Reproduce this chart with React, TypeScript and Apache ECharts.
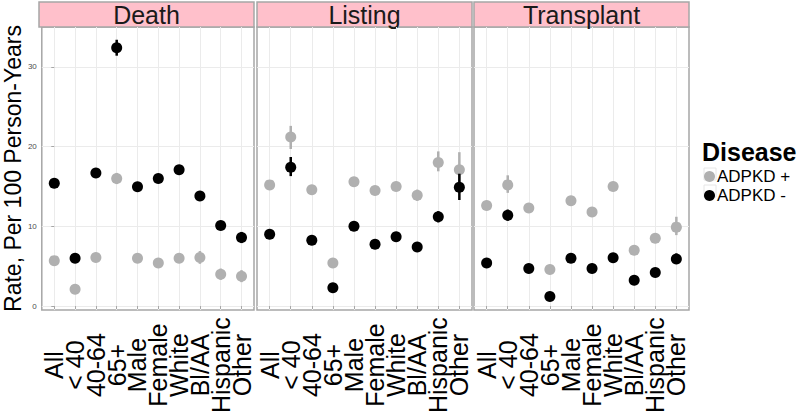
import React, { useEffect, useRef } from "react";
import * as echarts from "echarts";

const categories = ["All", "< 40", "40-64", "65+", "Male", "Female", "White", "Bl/AA", "Hispanic", "Other"];
const panels = ["Death", "Listing", "Transplant"];
const groups = ["ADPKD +", "ADPKD -"];
const yTicks = [0, 10, 20, 30];

// Death
const deathPos = [5.7, 2.1, 6.1, 16.0, 6.0, 5.4, 6.0, 6.1, 4.0, 3.75];
const deathPosLow = [5.3, 1.6, 5.6, 15.3, 5.5, 4.9, 5.5, 5.3, 3.3, 3.0];
const deathPosHigh = [6.1, 2.6, 6.6, 16.7, 6.5, 5.9, 6.5, 6.9, 4.7, 4.5];
const deathNeg = [15.4, 6.0, 16.7, 32.4, 14.96, 16.0, 17.1, 13.8, 10.1, 8.6];
const deathNegLow = [15.2, 5.7, 16.4, 31.4, 14.7, 15.7, 16.8, 13.3, 9.6, 7.9];
const deathNegHigh = [15.6, 6.3, 17.0, 33.4, 15.2, 16.3, 17.4, 14.3, 10.6, 9.3];

// Listing
const listingPos = [15.2, 21.2, 14.6, 5.4, 15.6, 14.5, 15.0, 13.9, 18.0, 17.1];
const listingPosLow = [14.8, 19.7, 14.1, 4.9, 15.2, 14.0, 14.5, 13.2, 16.9, 15.2];
const listingPosHigh = [15.6, 22.6, 15.1, 5.9, 16.0, 15.0, 15.5, 14.6, 19.4, 19.3];
const listingNeg = [9.0, 17.4, 8.25, 2.3, 10.0, 7.75, 8.7, 7.4, 11.2, 14.9];
const listingNegLow = [8.8, 16.3, 8.0, 2.1, 9.7, 7.5, 8.4, 7.0, 10.5, 13.3];
const listingNegHigh = [9.2, 18.7, 8.5, 2.5, 10.3, 8.0, 9.0, 7.8, 11.9, 16.6];

// Transplant
const transplantPos = [12.6, 15.2, 12.3, 4.6, 13.2, 11.8, 15.0, 7.0, 8.5, 9.9];
const transplantPosLow = [12.2, 14.2, 11.8, 4.1, 12.7, 11.3, 14.5, 6.4, 7.9, 8.9];
const transplantPosHigh = [13.0, 16.4, 12.8, 5.1, 13.7, 12.3, 15.5, 7.6, 9.1, 11.2];
const transplantNeg = [5.4, 11.4, 4.7, 1.2, 6.0, 4.7, 6.05, 3.25, 4.2, 5.9];
const transplantNegLow = [5.2, 10.7, 4.5, 1.0, 5.7, 4.5, 5.8, 3.0, 3.9, 5.3];
const transplantNegHigh = [5.6, 12.1, 4.9, 1.4, 6.3, 4.9, 6.3, 3.5, 4.5, 6.6];

const panelData = [
  { pos: deathPos, posLow: deathPosLow, posHigh: deathPosHigh, neg: deathNeg, negLow: deathNegLow, negHigh: deathNegHigh },
  { pos: listingPos, posLow: listingPosLow, posHigh: listingPosHigh, neg: listingNeg, negLow: listingNegLow, negHigh: listingNegHigh },
  { pos: transplantPos, posLow: transplantPosLow, posHigh: transplantPosHigh, neg: transplantNeg, negLow: transplantNegLow, negHigh: transplantNegHigh },
];

const FONT = "Liberation Sans, Arial, sans-serif";
const GRAY = "#b0b0b0";
const BLACK = "#000000";
const BORDER = "#a6a6a6";
const GRID = "#ebebeb";
const panelLefts = [39, 257, 474];
const panelWidth = 215;
const panelTop = 27;
const panelHeight = 284;

export default function App() {
  const ref = useRef<HTMLDivElement>(null);
  useEffect(() => {
    if (!ref.current) return;
    const chart = echarts.init(ref.current, null, { renderer: "svg" });
    const catIdx = categories.map((_, i) => i);
    const evenIdx = catIdx.filter((i) => i % 2 === 0);
    const oddIdx = catIdx.filter((i) => i % 2 === 1);

    const grids = panelLefts.map((left) => ({
      left,
      top: panelTop,
      width: panelWidth,
      height: panelHeight,
      show: true,
      borderColor: BORDER,
      borderWidth: 1.5,
      backgroundColor: "transparent",
    }));

    const labelStyle = (vals: number[]) => ({
      customValues: vals,
      showMinLabel: true,
      showMaxLabel: true,
      hideOverlap: false,
      formatter: (v: number) => categories[Math.round(v)] ?? "",
      rotate: 90,
      align: "center",
      verticalAlign: "middle",
      margin: 55,
      fontSize: 25,
      color: "#000",
      fontFamily: FONT,
    });

    const xAxes: any[] = [];
    panelLefts.forEach((_, k) => {
      xAxes.push({
        type: "value",
        gridIndex: k,
        position: "bottom",
        min: -0.6,
        max: 9.6,
        axisLine: { show: false },
        axisTick: { show: true, customValues: catIdx, length: 3, lineStyle: { color: BORDER } },
        axisLabel: labelStyle(evenIdx),
        splitLine: { show: true, lineStyle: { color: GRID, width: 1 } },
      });
      xAxes.push({
        type: "value",
        gridIndex: k,
        position: "bottom",
        offset: 0,
        min: -0.6,
        max: 9.6,
        axisLine: { show: false },
        axisTick: { show: false, customValues: oddIdx },
        axisLabel: labelStyle(oddIdx),
        splitLine: { show: false },
      });
    });

    const yAxes = panelLefts.map((_, k) => ({
      type: "value",
      gridIndex: k,
      min: -0.5,
      max: 35,
      axisLine: { show: false },
      axisTick: { show: k === 0, customValues: yTicks, length: 3, lineStyle: { color: BORDER } },
      axisLabel: {
        show: k === 0,
        customValues: yTicks,
        fontSize: 8,
        color: "#4d4d4d",
        margin: 5,
        fontFamily: FONT,
      },
      splitLine: { show: true, lineStyle: { color: GRID, width: 1 } },
      name: k === 0 ? "Rate, Per 100 Person-Years" : "",
      nameLocation: "middle",
      nameRotate: 90,
      nameGap: 12,
      nameTextStyle: { fontSize: 23, color: "#000", fontFamily: FONT },
    }));

    const errSeries = (k: number, lows: number[], highs: number[], color: string, z: number) => ({
      type: "custom",
      xAxisIndex: 2 * k,
      yAxisIndex: k,
      silent: true,
      z,
      data: lows.map((l, i) => [i, l, highs[i]]),
      encode: { x: 0, y: [1, 2] },
      renderItem: (_p: any, api: any) => {
        const a = api.coord([api.value(0), api.value(1)]);
        const b = api.coord([api.value(0), api.value(2)]);
        return {
          type: "line",
          shape: { x1: a[0], y1: a[1], x2: b[0], y2: b[1] },
          style: { stroke: color, lineWidth: 2.5 },
        };
      },
    });

    const series: any[] = [];
    panelData.forEach((d, k) => {
      series.push(errSeries(k, d.posLow, d.posHigh, GRAY, 2));
      series.push({
        type: "scatter",
        name: groups[0],
        xAxisIndex: 2 * k,
        yAxisIndex: k,
        z: 3,
        symbolSize: 11,
        itemStyle: { color: GRAY, opacity: 1 },
        data: d.pos.map((v, i) => [i, v]),
      });
      series.push(errSeries(k, d.negLow, d.negHigh, BLACK, 4));
      series.push({
        type: "scatter",
        name: groups[1],
        xAxisIndex: 2 * k,
        yAxisIndex: k,
        z: 5,
        symbolSize: 11,
        itemStyle: { color: BLACK, opacity: 1 },
        data: d.neg.map((v, i) => [i, v]),
      });
    });

    const graphics: any[] = [];
    panels.forEach((p, k) => {
      graphics.push({
        type: "rect",
        shape: { x: panelLefts[k], y: 2, width: panelWidth, height: 25 },
        style: { fill: "#FFC0CB", stroke: BORDER, lineWidth: 1.5 },
      });
      graphics.push({
        type: "text",
        x: panelLefts[k] + panelWidth / 2,
        y: 15,
        style: { text: p, fontSize: 25, fill: "#1a1a1a", align: "center", verticalAlign: "middle", fontFamily: FONT },
      });
    });
    graphics.push({
      type: "text",
      x: 702,
      y: 152,
      style: { text: "Disease", fontSize: 25, fontWeight: "bold", fill: "#000", align: "left", verticalAlign: "middle", fontFamily: FONT },
    });
    graphics.push({
      type: "rect",
      shape: { x: 704, y: 168, width: 12, height: 12 },
      style: { fill: "none", stroke: "#e6e6e6", lineWidth: 1 },
    });
    graphics.push({
      type: "rect",
      shape: { x: 704, y: 185, width: 12, height: 12 },
      style: { fill: "none", stroke: "#e6e6e6", lineWidth: 1 },
    });

    chart.setOption({
      animation: false,
      backgroundColor: "#ffffff",
      grid: grids,
      xAxis: xAxes,
      yAxis: yAxes,
      series,
      legend: {
        data: groups,
        orient: "vertical",
        left: 704,
        top: 168,
        padding: 0,
        itemGap: 2,
        itemWidth: 11,
        itemHeight: 11,
        icon: "circle",
        selectedMode: false,
        textStyle: { fontSize: 17, lineHeight: 15, color: "#000", fontFamily: FONT, padding: [0, 0, 0, -3] },
      },
      graphic: graphics,
    });
    return () => chart.dispose();
  }, []);
  return <div ref={ref} style={{ position: "fixed", left: 0, top: 0, width: 800, height: 416 }} />;
}
